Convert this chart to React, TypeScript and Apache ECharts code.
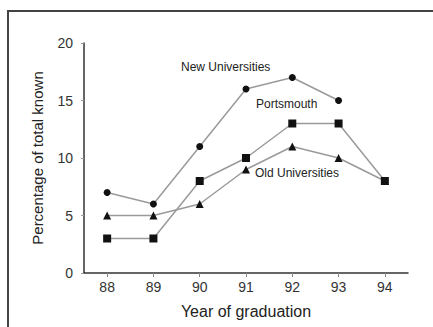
import React, { useEffect, useRef } from "react";
import * as echarts from "echarts";

const years = ["88", "89", "90", "91", "92", "93", "94"];
const newUniversities = [7, 6, 11, 16, 17, 15, null];
const portsmouth = [3, 3, 8, 10, 13, 13, 8];
const oldUniversities = [5, 5, 6, 9, 11, 10, 8];
const seriesNames = ["New Universities", "Portsmouth", "Old Universities"];

const FONT = "Liberation Sans, Arial, sans-serif";

export default function App() {
  const ref = useRef<HTMLDivElement>(null);
  useEffect(() => {
    if (!ref.current) return;
    const chart = echarts.init(ref.current, null, { renderer: "svg" });
    const lineStyle = { color: "#9a9a9a", width: 1.5 };
    const itemStyle = { color: "#111" };
    chart.setOption({
      animation: false,
      backgroundColor: "#fff",
      textStyle: { fontFamily: FONT },
      grid: { left: 84, right: 25, top: 43, bottom: 54 },
      xAxis: {
        type: "category",
        data: years,
        boundaryGap: true,
        name: "Year of graduation",
        nameLocation: "middle",
        nameGap: 30,
        nameTextStyle: { fontSize: 16, color: "#222", fontFamily: FONT },
        axisLine: { lineStyle: { color: "#333", width: 1.5 } },
        axisTick: { show: true, alignWithLabel: true, length: 4, lineStyle: { color: "#888" } },
        axisLabel: { fontSize: 14, color: "#333", margin: 7, fontFamily: FONT },
        splitLine: { show: false },
      },
      yAxis: {
        type: "value",
        min: 0,
        max: 20,
        interval: 5,
        name: "Percentage of total known",
        nameLocation: "middle",
        nameGap: 39,
        nameTextStyle: { fontSize: 15, color: "#222", fontFamily: FONT },
        axisLine: { show: true, lineStyle: { color: "#333", width: 1.5 } },
        axisTick: { show: true, length: 3, lineStyle: { color: "#999" } },
        axisLabel: { fontSize: 14, color: "#333", margin: 11, fontFamily: FONT },
        splitLine: { show: false },
      },
      graphic: [
        {
          type: "rect",
          shape: { x: 8, y: 11, width: 600, height: 500 },
          style: { fill: "none", stroke: "#444", lineWidth: 2 },
          silent: true,
        },
        {
          type: "text",
          x: 181,
          y: 61,
          style: { text: seriesNames[0], fontSize: 12, fill: "#222", fontFamily: FONT },
        },
        {
          type: "text",
          x: 256,
          y: 98,
          style: { text: seriesNames[1], fontSize: 12, fill: "#222", fontFamily: FONT },
        },
        {
          type: "text",
          x: 255,
          y: 167,
          style: { text: seriesNames[2], fontSize: 12, fill: "#222", fontFamily: FONT },
        },
      ],
      series: [
        {
          name: seriesNames[0],
          type: "line",
          data: newUniversities,
          symbol: "circle",
          symbolSize: 7,
          lineStyle,
          itemStyle,
        },
        {
          name: seriesNames[2],
          type: "line",
          data: oldUniversities,
          symbol: "triangle",
          symbolSize: 8,
          lineStyle,
          itemStyle,
        },
        {
          name: seriesNames[1],
          type: "line",
          data: portsmouth,
          symbol: "rect",
          symbolSize: 8,
          lineStyle,
          itemStyle,
        },
      ],
    });
    return () => chart.dispose();
  }, []);
  return (
    <div
      ref={ref}
      style={{ position: "absolute", left: 0, top: 0, width: 433, height: 327 }}
    />
  );
}
